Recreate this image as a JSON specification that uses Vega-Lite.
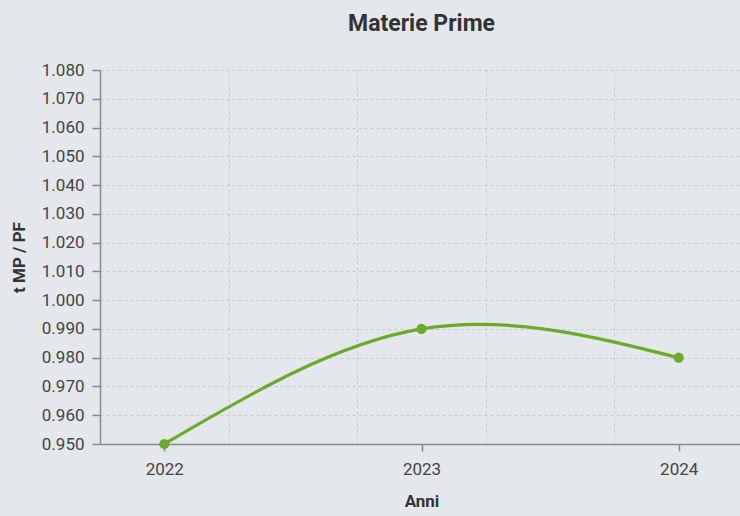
{
  "$schema": "https://vega.github.io/schema/vega-lite/v6.json",
  "width": 643,
  "height": 374,
  "autosize": {"type": "none"},
  "padding": {"left": 100, "top": 70, "right": 0, "bottom": 72},
  "background": "#e4e7eb",
  "config": {
    "font": "Roboto",
    "view": {"stroke": null},
    "axis": {
      "labelFont": "Roboto",
      "titleFont": "Roboto",
      "labelFontSize": 17,
      "labelColor": "#444444",
      "titleColor": "#333333",
      "titleFontSize": 17,
      "titleFontWeight": "bold",
      "domainColor": "#8a8a8a",
      "domainWidth": 1.5,
      "tickColor": "#8a8a8a",
      "tickWidth": 1.5,
      "tickSize": 8,
      "gridColor": "#c6c8cc",
      "gridDash": [3, 3],
      "gridWidth": 1
    }
  },
  "title": {
    "text": "Materie Prime",
    "fontSize": 23,
    "fontWeight": "bold",
    "color": "#333333",
    "font": "Roboto",
    "anchor": "middle",
    "offset": 25
  },
  "data": {
    "values": [
      {"anno": 2022, "valore": 0.950},
      {"anno": 2023, "valore": 0.990},
      {"anno": 2024, "valore": 0.980}
    ]
  },
  "layer": [
    {
      "mark": {"type": "point", "opacity": 0},
      "encoding": {
        "x": {
          "field": "anno",
          "type": "quantitative",
          "scale": {"domain": [2021.75, 2024.25], "nice": false, "zero": false},
          "axis": {
            "orient": "top",
            "values": [2021.75, 2022.25, 2022.75, 2023.25, 2023.75, 2024.25],
            "grid": true,
            "labels": false,
            "ticks": false,
            "domain": false,
            "title": null
          }
        },
        "y": {
          "field": "valore",
          "type": "quantitative",
          "scale": {"domain": [0.95, 1.08], "nice": false, "zero": false},
          "axis": {
            "values": [0.95, 0.96, 0.97, 0.98, 0.99, 1.0, 1.01, 1.02, 1.03, 1.04, 1.05, 1.06, 1.07, 1.08],
            "format": ".3f",
            "grid": true,
            "title": "t MP / PF",
            "labelPadding": 8,
            "titlePadding": 13
          }
        }
      }
    },
    {
      "mark": {"type": "line", "interpolate": "natural", "color": "#6aab2b", "strokeWidth": 3.2, "clip": false},
      "encoding": {
        "x": {
          "field": "anno",
          "type": "quantitative",
          "axis": {
            "orient": "bottom",
            "values": [2022, 2023, 2024],
            "format": "d",
            "grid": false,
            "title": "Anni",
            "tickSize": 7,
            "labelPadding": 10,
            "titlePadding": 16
          }
        },
        "y": {
          "field": "valore",
          "type": "quantitative",
          "axis": {
            "values": [0.95, 0.96, 0.97, 0.98, 0.99, 1.0, 1.01, 1.02, 1.03, 1.04, 1.05, 1.06, 1.07, 1.08],
            "format": ".3f",
            "grid": true,
            "title": "t MP / PF",
            "labelPadding": 8,
            "titlePadding": 13
          }
        }
      }
    },
    {
      "mark": {"type": "circle", "color": "#6aab2b", "size": 105, "opacity": 1, "clip": false},
      "encoding": {
        "x": {"field": "anno", "type": "quantitative", "axis": null},
        "y": {
          "field": "valore",
          "type": "quantitative",
          "axis": {
            "values": [0.95, 0.96, 0.97, 0.98, 0.99, 1.0, 1.01, 1.02, 1.03, 1.04, 1.05, 1.06, 1.07, 1.08],
            "format": ".3f",
            "grid": true,
            "title": "t MP / PF",
            "labelPadding": 8,
            "titlePadding": 13
          }
        }
      }
    }
  ],
  "resolve": {"axis": {"x": "independent"}}
}
